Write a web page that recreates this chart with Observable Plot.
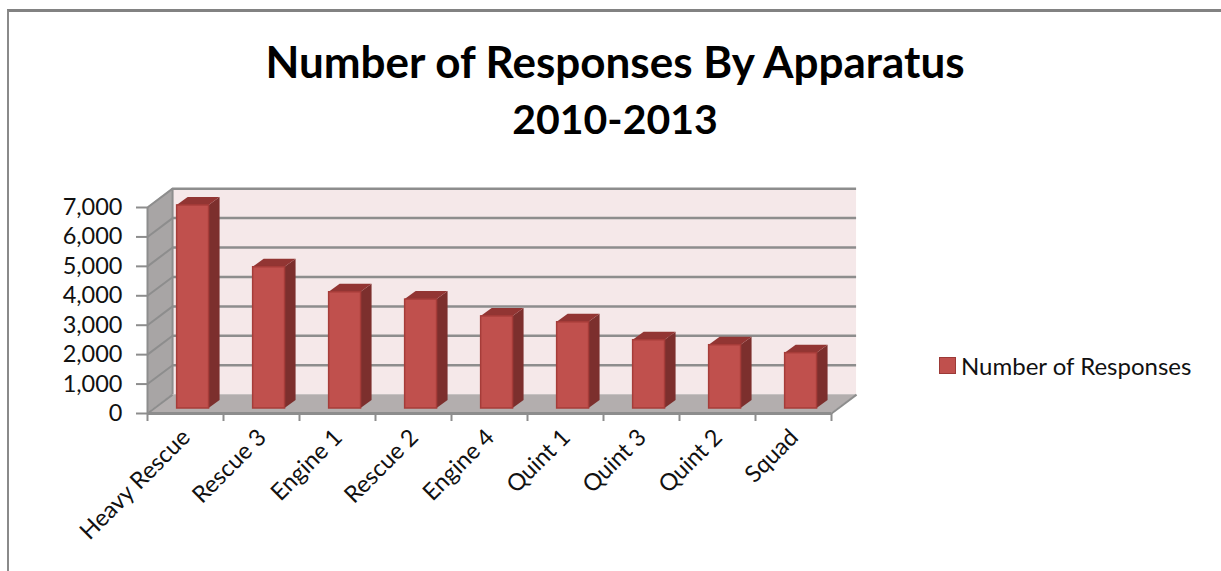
<!DOCTYPE html>
<html>
<head>
<meta charset="utf-8">
<script src="https://cdn.jsdelivr.net/npm/d3@7"></script>
<script src="https://cdn.jsdelivr.net/npm/@observablehq/plot@0.6"></script>
<style>
  html, body { margin: 0; padding: 0; background: #fff; }
  #page { position: relative; width: 1221px; height: 571px; overflow: hidden; font-family: Lato, sans-serif; color: #111; }
  #frame { position: absolute; left: 7px; top: 9px; right: -4px; bottom: -4px; border-top: 3px solid #828282; border-left: 2px solid #8a8a8a; pointer-events: none; z-index: 2; }
  #title { position: absolute; left: 0; top: 33px; width: 1230px; text-align: center; font-size: 44px; font-weight: 700; line-height: 56px; color: #000; }
  #title span { font-size: 41px; }
  #chart { position: absolute; left: 0; top: 170px; }
  #legend { position: absolute; left: 939px; top: 351px; display: flex; align-items: center; gap: 5px; font-size: 24px; }
  #legend i { display: block; width: 15px; height: 15px; background: #c0504d; border: 1px solid #9c3a37; }
</style>
</head>
<body>
<div id="page">
  <div id="frame"></div>
  <div id="title">Number of Responses By Apparatus<br><span>2010-2013</span></div>
  <div id="chart"></div>
  <div id="legend"><i></i><span>Number of Responses</span></div>
</div>
<script>
// Responses per apparatus, 2010-2013
const apparatus = ["Heavy Rescue", "Rescue 3", "Engine 1", "Rescue 2", "Engine 4", "Quint 1", "Quint 3", "Quint 2", "Squad"];
const responses = [6900, 4800, 3950, 3700, 3130, 2930, 2320, 2150, 1880];
const gridValues = [0, 1000, 2000, 3000, 4000, 5000, 6000, 7000];

// Oblique 3D box: offsets in scale units (x = category slots, y = responses)
const wallDx = 0.33, wallDy = 640;
const barLeft = 0.39, barWidth = 0.42, barDx = 0.145, barDy = 272, barLift = 170;
const yMax = gridValues[gridValues.length - 1];
const n = apparatus.length;

const rows = apparatus.map((name, i) => ({
  name, i,
  x0: i + barLeft,
  x1: i + barLeft + barWidth,
  base: barLift,
  top: barLift + responses[i]
}));

// A parallelogram is an area between two edges
const face = (edges, fill, extra = {}) =>
  Plot.area(edges, {x1: "x1", x2: "x2", y1: "y1", y2: "y2", z: "k", fill, ...extra});

const leftWall = [
  {k: 0, x1: 0, x2: 0, y1: 0, y2: yMax},
  {k: 0, x1: wallDx, x2: wallDx, y1: wallDy, y2: yMax + wallDy}
];
const floor = [
  {k: 0, x1: 0, x2: n, y1: 0, y2: 0},
  {k: 0, x1: wallDx, x2: n + wallDx, y1: wallDy, y2: wallDy}
];
const barSides = rows.flatMap(d => [
  {k: d.i, x1: d.x1, x2: d.x1, y1: d.base, y2: d.top},
  {k: d.i, x1: d.x1 + barDx, x2: d.x1 + barDx, y1: d.base + barDy, y2: d.top + barDy}
]);
const barTops = rows.flatMap(d => [
  {k: d.i, x1: d.x0, x2: d.x1, y1: d.top, y2: d.top},
  {k: d.i, x1: d.x0 + barDx, x2: d.x1 + barDx, y1: d.top + barDy, y2: d.top + barDy}
]);

const wallLine = "#8d8d8d";

const chart = Plot.plot({
  width: 1221,
  height: 401,
  marginLeft: 147,
  marginBottom: 158,
  marginTop: 0,
  marginRight: 390,
  x: {domain: [0, n], range: [147, 831]},
  y: {domain: [0, yMax], range: [243, 37]},
  style: {background: "transparent", fontFamily: "Lato, sans-serif"},
  marks: [
    // Back wall, side wall and floor
    Plot.rect([0], {x1: wallDx, x2: n + wallDx, y1: wallDy, y2: yMax + wallDy, fill: "#f5e8e9"}),
    face(leftWall, "#a8a5a5"),
    face(floor, "#b3aeae"),
    // Gridlines run across the back wall and down the side wall
    Plot.ruleY(gridValues.slice(1), {x1: wallDx, x2: n + wallDx, y: d => d + wallDy, stroke: wallLine, strokeWidth: 2.5}),
    Plot.link(gridValues, {x1: 0, x2: wallDx, y1: d => d, y2: d => d + wallDy, stroke: wallLine, strokeWidth: 2}),
    Plot.ruleX([wallDx], {y1: wallDy, y2: yMax + wallDy, stroke: wallLine, strokeWidth: 2}),
    Plot.link([n], {x1: d => d, x2: d => d + wallDx, y1: 0, y2: wallDy, stroke: wallLine, strokeWidth: 2}),
    // Bars: side, top, then front face
    face(barSides, "#7c2f2d"),
    face(barTops, "#923533"),
    Plot.rect(rows, {x1: "x0", x2: "x1", y1: "base", y2: "top", fill: "#c0504d", stroke: "#a63c39", strokeWidth: 1.5}),
    // Front edges and axes
    Plot.ruleY([0], {x1: 0, x2: n, stroke: wallLine, strokeWidth: 3}),
    Plot.ruleX([0], {y1: 0, y2: yMax, stroke: wallLine, strokeWidth: 2}),
    Plot.axisY(gridValues, {anchor: "left", tickSize: 11, tickPadding: 14, stroke: wallLine, strokeWidth: 2, fill: "#111", fontSize: 23.5, label: null, tickFormat: d3.format(",")}),
    Plot.axisX(d3.range(n + 1), {anchor: "bottom", tickSize: 8, stroke: wallLine, strokeWidth: 2, tickFormat: () => "", label: null}),
    Plot.text(rows, {x: d => d.i + 0.51, y: 0, text: "name", rotate: -45, textAnchor: "end", dy: 20, fontSize: 23.5, fill: "#111"})
  ]
});
document.getElementById("chart").appendChild(chart);
</script>
</body>
</html>
